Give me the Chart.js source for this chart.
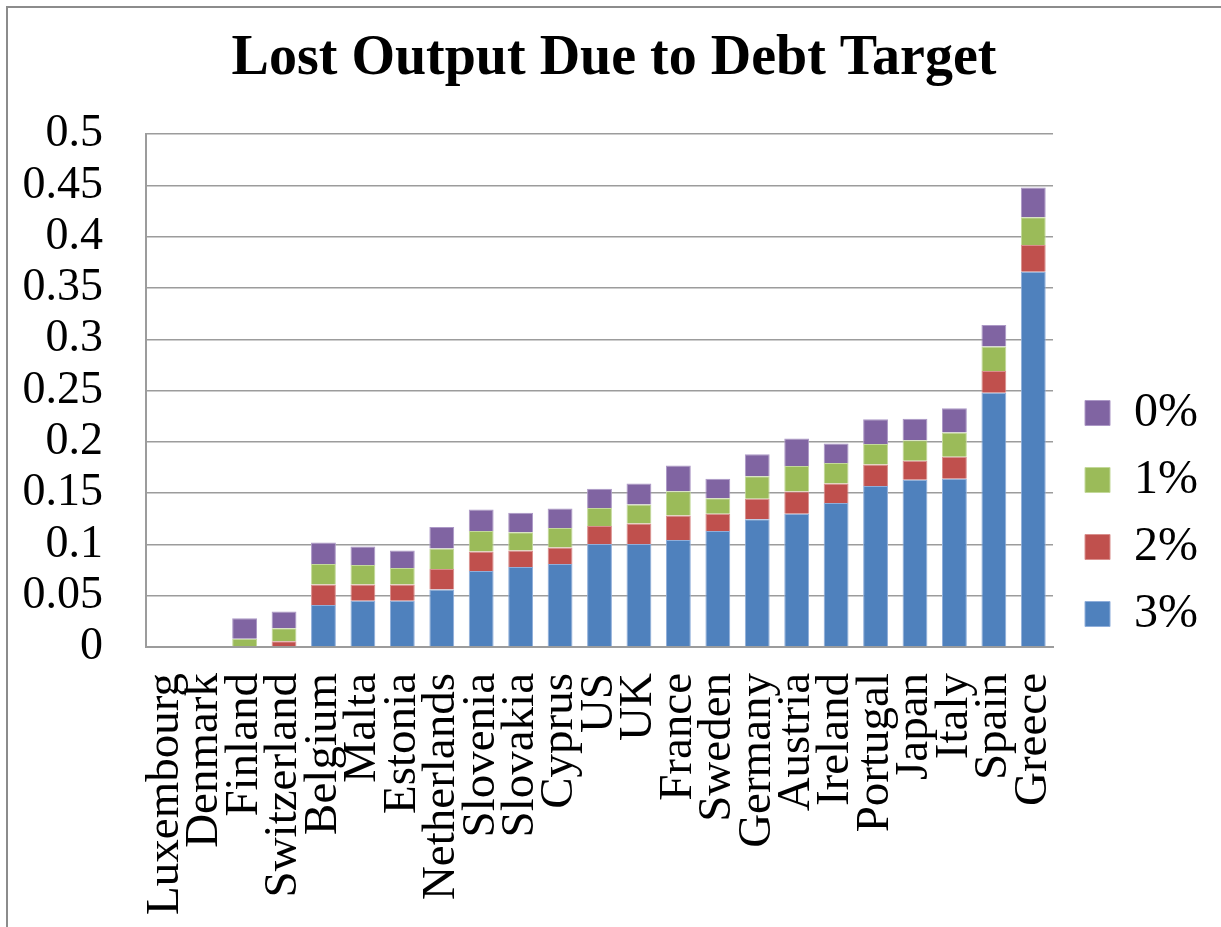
<!DOCTYPE html>
<html>
<head>
<meta charset="utf-8">
<script src="https://cdn.jsdelivr.net/npm/chart.js@4.4.0/dist/chart.umd.min.js"></script>
<style>
html, body { margin: 0; padding: 0; background: #ffffff; overflow: hidden; }
#wrap { position: relative; width: 1221px; height: 927px; overflow: hidden; }
#frame { position: absolute; left: 6px; top: 6px; width: 1240px; height: 940px;
  border-top: 2px solid #8c8c8c; border-left: 2px solid #8c8c8c; pointer-events: none; }
canvas { display: block; }
</style>
</head>
<body>
<div id="wrap">
  <canvas id="chart" width="1221" height="927"></canvas>
  <div id="frame"></div>
</div>
<script>
// ---- Data ----
const categories = ["Luxembourg", "Denmark", "Finland", "Switzerland", "Belgium", "Malta", "Estonia",
  "Netherlands", "Slovenia", "Slovakia", "Cyprus", "US", "UK", "France", "Sweden", "Germany",
  "Austria", "Ireland", "Portugal", "Japan", "Italy", "Spain", "Greece"];

const seriesNames = ["3%", "2%", "1%", "0%"];

const values3 = [0, 0, 0, 0, 0.041, 0.045, 0.045, 0.056, 0.074, 0.078, 0.081, 0.1005,
  0.1005, 0.1044, 0.113, 0.1245, 0.130, 0.1405, 0.157, 0.163, 0.164, 0.248, 0.366];
const values2 = [0, 0, 0, 0.0055, 0.020, 0.016, 0.016, 0.020, 0.019, 0.016, 0.016, 0.0175,
  0.020, 0.0237, 0.017, 0.020, 0.0215, 0.019, 0.021, 0.0185, 0.0214, 0.021, 0.026];
const values1 = [0, 0, 0.008, 0.0127, 0.020, 0.019, 0.016, 0.020, 0.020, 0.018, 0.019, 0.0176,
  0.0185, 0.0238, 0.015, 0.022, 0.025, 0.020, 0.020, 0.020, 0.0238, 0.024, 0.027];
const values0 = [0, 0, 0.020, 0.0163, 0.021, 0.018, 0.017, 0.021, 0.021, 0.019, 0.019, 0.0188,
  0.0205, 0.025, 0.019, 0.0215, 0.0267, 0.019, 0.024, 0.021, 0.0237, 0.021, 0.029];

const titleText = "Lost Output Due to Debt Target";
const yMin = 0, yMax = 0.5, yStep = 0.05;

// ---- Styling ----
const colors = ["#4F81BD", "#C0504D", "#9BBB59", "#8064A2"];
const edgeColors = ["#8FAEDA", "#D98F8D", "#C3D99A", "#AC98C6"];
const serif = "'Liberation Serif', 'Times New Roman', serif";
const gridColor = "#9c9c9c";

function makeChart() {
  const seriesValues = [values3, values2, values1, values0];
  const datasets = seriesNames.map((name, i) => ({
    label: name,
    data: seriesValues[i],
    backgroundColor: colors[i],
    borderColor: edgeColors[i],
    borderWidth: 1,
    stack: "s",
    barPercentage: 0.63,
    categoryPercentage: 1.0
  }));

  Chart.defaults.font.family = serif;
  Chart.defaults.color = "#000000";

  new Chart(document.getElementById("chart"), {
    type: "bar",
    data: { labels: categories, datasets: datasets },
    options: {
      responsive: false,
      animation: false,
      devicePixelRatio: 1,
      layout: { padding: { left: 20, right: 13, top: 0, bottom: 0 } },
      plugins: {
        title: {
          display: true,
          text: titleText,
          color: "#000000",
          font: { family: serif, size: 56, weight: "bold", lineHeight: 1.2 },
          padding: { top: 26, bottom: 41 }
        },
        legend: {
          display: true,
          position: "right",
          reverse: true,
          title: {
            display: true,
            text: " ",
            font: { family: serif, size: 10, lineHeight: 1.2 },
            padding: { top: 88, bottom: 0 }
          },
          labels: {
            color: "#000000",
            font: { family: serif, size: 48 },
            boxWidth: 25,
            boxHeight: 25,
            padding: 19
          }
        },
        tooltip: { enabled: false }
      },
      scales: {
        x: {
          stacked: true,
          grid: { display: false, drawTicks: false },
          border: { display: true, color: gridColor, width: 2 },
          ticks: {
            autoSkip: false,
            minRotation: 90,
            maxRotation: 90,
            padding: 26,
            color: "#000000",
            font: { family: serif, size: 47 }
          },
          afterFit: (scale) => { scale.height = 280; }
        },
        y: {
          stacked: true,
          min: yMin,
          max: yMax,
          grid: { color: gridColor, lineWidth: 1.5, drawTicks: false },
          border: { display: true, color: gridColor, width: 2 },
          ticks: {
            stepSize: yStep,
            autoSkip: false,
            padding: 43,
            color: "#000000",
            font: { family: serif, size: 46, lineHeight: 1.0 },
            callback: (v) => String(parseFloat(Number(v).toFixed(2)))
          },
          afterFit: (scale) => { scale.width = 126; }
        },
        spacer: {
          type: "linear",
          position: "right",
          display: true,
          grid: { display: false, drawTicks: false },
          border: { display: false },
          ticks: { display: false },
          afterFit: (scale) => { scale.width = 13; }
        }
      }
    }
  });
}

let drawn = false;
function go() { if (!drawn) { drawn = true; makeChart(); } }
if (document.fonts && document.fonts.load) {
  Promise.all([
    document.fonts.load("bold 56px 'Liberation Serif'"),
    document.fonts.load("48px 'Liberation Serif'")
  ]).then(go, go);
  setTimeout(go, 1500);
} else {
  go();
}
</script>
</body>
</html>
